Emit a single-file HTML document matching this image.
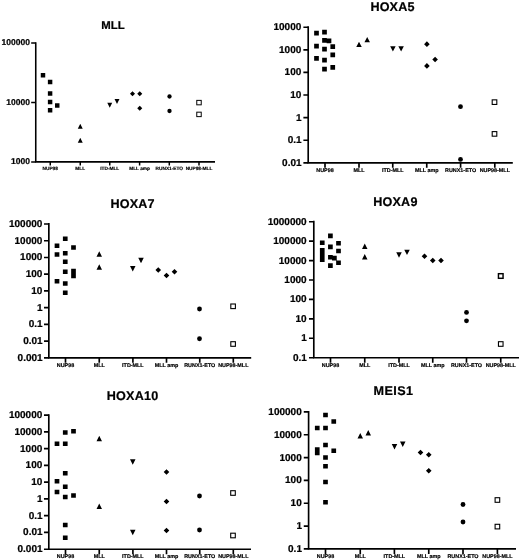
<!DOCTYPE html>
<html><head><meta charset="utf-8"><title>Expression plots</title>
<style>
html,body{margin:0;padding:0;background:#fff;}
body{width:520px;height:560px;overflow:hidden;}
svg{display:block;}
text{font-family:"Liberation Sans", sans-serif;font-weight:bold;text-rendering:geometricPrecision;fill:#000;stroke:#000;stroke-width:0.22px;stroke-linejoin:round;}
text.l{stroke-width:0.18px;}
</style></head><body>
<svg width="520" height="560" viewBox="0 0 520 560">
<defs><filter id="b" x="0" y="0" width="520" height="560" filterUnits="userSpaceOnUse"><feGaussianBlur stdDeviation="0.45"/></filter></defs>
<g filter="url(#b)">
<rect x="-5" y="-5" width="530" height="570" fill="#fff"/>
<g>
<path d="M35.75 42.26V161.9H215" fill="none" stroke="#000" stroke-width="1.57" stroke-linejoin="miter"/>
<path d="M31.17 43.1H35.75M31.17 102.5H35.75M31.17 161.9H35.75M50.25 161.9V165.54M80.25 161.9V165.54M109.75 161.9V165.54M139.6 161.9V165.54M169.3 161.9V165.54M199 161.9V165.54" fill="none" stroke="#000" stroke-width="1.48"/>
<text transform="translate(29.9 45.24) scale(1 1)" font-size="8.5" text-anchor="end">100000</text>
<text transform="translate(29.9 104.64) scale(1 1)" font-size="8.5" text-anchor="end">10000</text>
<text transform="translate(29.9 164.04) scale(1 1)" font-size="8.5" text-anchor="end">1000</text>
<text x="50.25" y="170.2" font-size="4.75" text-anchor="middle" class="l">NUP98</text>
<text x="80.25" y="170.2" font-size="4.75" text-anchor="middle" class="l">MLL</text>
<text x="109.75" y="170.2" font-size="4.75" text-anchor="middle" class="l">ITD-MLL</text>
<text x="139.6" y="170.2" font-size="4.75" text-anchor="middle" class="l">MLL amp</text>
<text x="169.3" y="170.2" font-size="4.75" text-anchor="middle" class="l">RUNX1-ETO</text>
<text x="199" y="170.2" font-size="4.75" text-anchor="middle" class="l">NUP98-MLL</text>
<text x="112.9" y="28.78" font-size="11.4" letter-spacing="0" text-anchor="middle">MLL</text>
<path d="M40.77 73.02h4.46v4.46h-4.46zM47.87 79.67h4.46v4.46h-4.46zM47.87 91.17h4.46v4.46h-4.46zM47.87 99.67h4.46v4.46h-4.46zM55.02 103.17h4.46v4.46h-4.46zM47.87 108.07h4.46v4.46h-4.46zM77.78 128.63h4.95L80.25 123.86zM77.78 142.63h4.95L80.25 137.87zM107.28 102.86h4.95L109.75 107.64zM114.53 99.11h4.95L117 103.89zM129.98 93.75L132.5 91.23L135.02 93.75L132.5 96.27zM137.23 93.75L139.75 91.23L142.27 93.75L139.75 96.27zM137.23 108.25L139.75 105.73L142.27 108.25L139.75 110.77z" fill="#000"/>
<circle cx="169.5" cy="96.5" r="2.16" fill="#000"/>
<circle cx="169.5" cy="111" r="2.16" fill="#000"/>
<rect x="196.77" y="100.37" width="4.46" height="4.46" fill="#fff" stroke="#000" stroke-width="0.99"/>
<rect x="196.77" y="112.17" width="4.46" height="4.46" fill="#fff" stroke="#000" stroke-width="0.99"/>
</g>
<g>
<path d="M308.2 26.27V162.8H512.8" fill="none" stroke="#000" stroke-width="1.65" stroke-linejoin="miter"/>
<path d="M303.38 27.2H308.2M303.38 49.8H308.2M303.38 72.4H308.2M303.38 95H308.2M303.38 117.6H308.2M303.38 140.2H308.2M303.38 162.8H308.2M325 162.8V167.82M359 162.8V167.82M392.75 162.8V167.82M426.75 162.8V167.82M460.6 162.8V167.82M494.8 162.8V167.82" fill="none" stroke="#000" stroke-width="1.65"/>
<text transform="translate(301.3 30.18) scale(1 1)" font-size="10" text-anchor="end">10000</text>
<text transform="translate(301.3 52.78) scale(1 1)" font-size="10" text-anchor="end">1000</text>
<text transform="translate(301.3 75.38) scale(1 1)" font-size="10" text-anchor="end">100</text>
<text transform="translate(301.3 97.98) scale(1 1)" font-size="10" text-anchor="end">10</text>
<text transform="translate(301.55 120.58) scale(1 1)" font-size="10" text-anchor="end">1</text>
<text transform="translate(301.55 143.18) scale(1 1)" font-size="10" text-anchor="end">0.1</text>
<text transform="translate(301.55 165.78) scale(1 1)" font-size="10" text-anchor="end">0.01</text>
<text x="325" y="171.93" font-size="5.4" text-anchor="middle" class="l">NUP98</text>
<text x="359" y="171.93" font-size="5.4" text-anchor="middle" class="l">MLL</text>
<text x="392.75" y="171.93" font-size="5.4" text-anchor="middle" class="l">ITD-MLL</text>
<text x="426.75" y="171.93" font-size="5.4" text-anchor="middle" class="l">MLL amp</text>
<text x="460.6" y="171.93" font-size="5.4" text-anchor="middle" class="l">RUNX1-ETO</text>
<text x="494.8" y="171.93" font-size="5.4" text-anchor="middle" class="l">NUP98-MLL</text>
<text x="392.5" y="10.76" font-size="12.6" letter-spacing="0.15" text-anchor="middle">HOXA5</text>
<path d="M314.15 30.8h4.7v4.7h-4.7zM322.15 29.8h4.7v4.7h-4.7zM322.15 38.05h4.7v4.7h-4.7zM326.65 38.55h4.7v4.7h-4.7zM314.15 43.8h4.7v4.7h-4.7zM330.4 44.3h4.7v4.7h-4.7zM322.15 46.8h4.7v4.7h-4.7zM330.4 52.55h4.7v4.7h-4.7zM314.15 56.05h4.7v4.7h-4.7zM322.15 57.8h4.7v4.7h-4.7zM330.4 65.05h4.7v4.7h-4.7zM322.15 66.8h4.7v4.7h-4.7zM356.25 47.05h5.5L359 41.75zM364.45 42.25h5.5L367.2 36.95zM390.15 46.25h5.5L392.9 51.55zM398.35 46.25h5.5L401.1 51.55zM424.1 44.15L426.9 41.35L429.7 44.15L426.9 46.95zM432.3 59.5L435.1 56.7L437.9 59.5L435.1 62.3zM424.1 65.9L426.9 63.1L429.7 65.9L426.9 68.7z" fill="#000"/>
<circle cx="460.5" cy="106.65" r="2.4" fill="#000"/>
<circle cx="460.5" cy="159.4" r="2.4" fill="#000"/>
<rect x="492.2" y="99.85" width="4.6" height="4.6" fill="#fff" stroke="#000" stroke-width="1.1"/>
<rect x="492.2" y="131.6" width="4.6" height="4.6" fill="#fff" stroke="#000" stroke-width="1.1"/>
</g>
<g>
<path d="M48.85 223.08V357.8H251.2" fill="none" stroke="#000" stroke-width="1.65" stroke-linejoin="miter"/>
<path d="M44.02 224H48.85M44.02 240.72H48.85M44.02 257.45H48.85M44.02 274.18H48.85M44.02 290.9H48.85M44.02 307.62H48.85M44.02 324.35H48.85M44.02 341.08H48.85M44.02 357.8H48.85M65.5 357.8V362.82M99.25 357.8V362.82M132.9 357.8V362.82M166.5 357.8V362.82M199.75 357.8V362.82M233.3 357.8V362.82" fill="none" stroke="#000" stroke-width="1.65"/>
<text transform="translate(42.35 226.98) scale(1 1)" font-size="10" text-anchor="end">100000</text>
<text transform="translate(42.35 243.71) scale(1 1)" font-size="10" text-anchor="end">10000</text>
<text transform="translate(42.35 260.43) scale(1 1)" font-size="10" text-anchor="end">1000</text>
<text transform="translate(42.35 277.15) scale(1 1)" font-size="10" text-anchor="end">100</text>
<text transform="translate(42.35 293.88) scale(1 1)" font-size="10" text-anchor="end">10</text>
<text transform="translate(42.6 310.6) scale(1 1)" font-size="10" text-anchor="end">1</text>
<text transform="translate(42.6 327.33) scale(1 1)" font-size="10" text-anchor="end">0.1</text>
<text transform="translate(42.6 344.06) scale(1 1)" font-size="10" text-anchor="end">0.01</text>
<text transform="translate(42.6 360.78) scale(1 1)" font-size="10" text-anchor="end">0.001</text>
<text x="65.5" y="367.03" font-size="5.4" text-anchor="middle" class="l">NUP98</text>
<text x="99.25" y="367.03" font-size="5.4" text-anchor="middle" class="l">MLL</text>
<text x="132.9" y="367.03" font-size="5.4" text-anchor="middle" class="l">ITD-MLL</text>
<text x="166.5" y="367.03" font-size="5.4" text-anchor="middle" class="l">MLL amp</text>
<text x="199.75" y="367.03" font-size="5.4" text-anchor="middle" class="l">RUNX1-ETO</text>
<text x="233.3" y="367.03" font-size="5.4" text-anchor="middle" class="l">NUP98-MLL</text>
<text x="132.6" y="207.91" font-size="12.6" letter-spacing="0.15" text-anchor="middle">HOXA7</text>
<path d="M54.65 243.4h4.7v4.7h-4.7zM62.9 236.4h4.7v4.7h-4.7zM71.15 245.15h4.7v4.7h-4.7zM54.65 252.15h4.7v4.7h-4.7zM62.9 250.9h4.7v4.7h-4.7zM62.9 259.4h4.7v4.7h-4.7zM62.9 269.4h4.7v4.7h-4.7zM71.15 268.85h4.7v4.7h-4.7zM71.15 273.45h4.7v4.7h-4.7zM54.65 278.9h4.7v4.7h-4.7zM62.9 281.15h4.7v4.7h-4.7zM62.9 290.4h4.7v4.7h-4.7zM96.5 256.65h5.5L99.25 251.35zM96.5 269.65h5.5L99.25 264.35zM130 266.1h5.5L132.75 271.4zM138.25 257.85h5.5L141 263.15zM155.45 270L158.25 267.2L161.05 270L158.25 272.8zM163.7 275.5L166.5 272.7L169.3 275.5L166.5 278.3zM171.7 271.75L174.5 268.95L177.3 271.75L174.5 274.55z" fill="#000"/>
<circle cx="199.5" cy="309" r="2.4" fill="#000"/>
<circle cx="199.5" cy="338.75" r="2.4" fill="#000"/>
<rect x="230.8" y="304" width="4.6" height="4.6" fill="#fff" stroke="#000" stroke-width="1.1"/>
<rect x="230.8" y="341.7" width="4.6" height="4.6" fill="#fff" stroke="#000" stroke-width="1.1"/>
</g>
<g>
<path d="M313.8 220.78V357.7H519" fill="none" stroke="#000" stroke-width="1.65" stroke-linejoin="miter"/>
<path d="M308.98 221.7H313.8M308.98 241.13H313.8M308.98 260.56H313.8M308.98 279.99H313.8M308.98 299.41H313.8M308.98 318.84H313.8M308.98 338.27H313.8M308.98 357.7H313.8M330.5 357.7V362.72M364.75 357.7V362.72M399 357.7V362.72M432.75 357.7V362.72M466.5 357.7V362.72M500.75 357.7V362.72" fill="none" stroke="#000" stroke-width="1.65"/>
<text transform="translate(306.6 224.68) scale(1 1)" font-size="10" text-anchor="end">1000000</text>
<text transform="translate(306.6 244.11) scale(1 1)" font-size="10" text-anchor="end">100000</text>
<text transform="translate(306.6 263.54) scale(1 1)" font-size="10" text-anchor="end">10000</text>
<text transform="translate(306.6 282.97) scale(1 1)" font-size="10" text-anchor="end">1000</text>
<text transform="translate(306.6 302.39) scale(1 1)" font-size="10" text-anchor="end">100</text>
<text transform="translate(306.6 321.82) scale(1 1)" font-size="10" text-anchor="end">10</text>
<text transform="translate(306.85 341.25) scale(1 1)" font-size="10" text-anchor="end">1</text>
<text transform="translate(306.85 360.68) scale(1 1)" font-size="10" text-anchor="end">0.1</text>
<text x="330.5" y="366.88" font-size="5.4" text-anchor="middle" class="l">NUP98</text>
<text x="364.75" y="366.88" font-size="5.4" text-anchor="middle" class="l">MLL</text>
<text x="399" y="366.88" font-size="5.4" text-anchor="middle" class="l">ITD-MLL</text>
<text x="432.75" y="366.88" font-size="5.4" text-anchor="middle" class="l">MLL amp</text>
<text x="466.5" y="366.88" font-size="5.4" text-anchor="middle" class="l">RUNX1-ETO</text>
<text x="500.75" y="366.88" font-size="5.4" text-anchor="middle" class="l">NUP98-MLL</text>
<text x="395.4" y="205.96" font-size="12.6" letter-spacing="0.2" text-anchor="middle">HOXA9</text>
<path d="M319.9 240.4h4.7v4.7h-4.7zM319.9 247.95h4.7v4.7h-4.7zM319.9 252.65h4.7v4.7h-4.7zM319.9 257.25h4.7v4.7h-4.7zM328.05 233.55h4.7v4.7h-4.7zM328.05 244.55h4.7v4.7h-4.7zM328.05 254.9h4.7v4.7h-4.7zM332.05 255.75h4.7v4.7h-4.7zM328.05 263.25h4.7v4.7h-4.7zM336.15 240.9h4.7v4.7h-4.7zM336.15 248.65h4.7v4.7h-4.7zM336.15 260.4h4.7v4.7h-4.7zM362 248.9h5.5L364.75 243.6zM362 259.4h5.5L364.75 254.1zM396.25 252.35h5.5L399 257.65zM404.25 249.75h5.5L407 255.05zM421.7 256.25L424.5 253.45L427.3 256.25L424.5 259.05zM429.95 260.5L432.75 257.7L435.55 260.5L432.75 263.3zM438.2 260.5L441 257.7L443.8 260.5L441 263.3z" fill="#000"/>
<circle cx="466.5" cy="312.4" r="2.4" fill="#000"/>
<circle cx="466.5" cy="320.8" r="2.4" fill="#000"/>
<rect x="498.45" y="273.7" width="4.6" height="4.6" fill="#fff" stroke="#000" stroke-width="1.45"/>
<rect x="498.45" y="341.7" width="4.6" height="4.6" fill="#fff" stroke="#000" stroke-width="1.1"/>
</g>
<g>
<path d="M48.8 414.22V549.2H251" fill="none" stroke="#000" stroke-width="1.65" stroke-linejoin="miter"/>
<path d="M43.97 415.15H48.8M43.97 431.91H48.8M43.97 448.66H48.8M43.97 465.42H48.8M43.97 482.18H48.8M43.97 498.93H48.8M43.97 515.69H48.8M43.97 532.44H48.8M43.97 549.2H48.8M65.5 549.2V554.23M99.25 549.2V554.23M132.9 549.2V554.23M166.5 549.2V554.23M199.75 549.2V554.23M233.3 549.2V554.23" fill="none" stroke="#000" stroke-width="1.65"/>
<text transform="translate(42.3 418.13) scale(1 1)" font-size="10" text-anchor="end">100000</text>
<text transform="translate(42.3 434.89) scale(1 1)" font-size="10" text-anchor="end">10000</text>
<text transform="translate(42.3 451.64) scale(1 1)" font-size="10" text-anchor="end">1000</text>
<text transform="translate(42.3 468.4) scale(1 1)" font-size="10" text-anchor="end">100</text>
<text transform="translate(42.3 485.15) scale(1 1)" font-size="10" text-anchor="end">10</text>
<text transform="translate(42.55 501.91) scale(1 1)" font-size="10" text-anchor="end">1</text>
<text transform="translate(42.55 518.67) scale(1 1)" font-size="10" text-anchor="end">0.1</text>
<text transform="translate(42.55 535.42) scale(1 1)" font-size="10" text-anchor="end">0.01</text>
<text transform="translate(42.55 552.18) scale(1 1)" font-size="10" text-anchor="end">0.001</text>
<text x="65.5" y="558.33" font-size="5.4" text-anchor="middle" class="l">NUP98</text>
<text x="99.25" y="558.33" font-size="5.4" text-anchor="middle" class="l">MLL</text>
<text x="132.9" y="558.33" font-size="5.4" text-anchor="middle" class="l">ITD-MLL</text>
<text x="166.5" y="558.33" font-size="5.4" text-anchor="middle" class="l">MLL amp</text>
<text x="199.75" y="558.33" font-size="5.4" text-anchor="middle" class="l">RUNX1-ETO</text>
<text x="233.3" y="558.33" font-size="5.4" text-anchor="middle" class="l">NUP98-MLL</text>
<text x="132.6" y="399.56" font-size="12.6" letter-spacing="0.2" text-anchor="middle">HOXA10</text>
<path d="M62.9 430.15h4.7v4.7h-4.7zM71.15 428.9h4.7v4.7h-4.7zM54.65 441.4h4.7v4.7h-4.7zM62.9 441.4h4.7v4.7h-4.7zM62.9 470.9h4.7v4.7h-4.7zM54.65 478.9h4.7v4.7h-4.7zM62.9 484.4h4.7v4.7h-4.7zM54.65 489.65h4.7v4.7h-4.7zM62.9 494.65h4.7v4.7h-4.7zM71.15 493.15h4.7v4.7h-4.7zM62.9 522.65h4.7v4.7h-4.7zM62.9 535.4h4.7v4.7h-4.7zM96.5 441.15h5.5L99.25 435.85zM96.5 508.9h5.5L99.25 503.6zM130 459.35h5.5L132.75 464.65zM130 529.85h5.5L132.75 535.15zM163.7 472L166.5 469.2L169.3 472L166.5 474.8zM163.7 501.5L166.5 498.7L169.3 501.5L166.5 504.3zM163.7 530.5L166.5 527.7L169.3 530.5L166.5 533.3z" fill="#000"/>
<circle cx="199.5" cy="496" r="2.4" fill="#000"/>
<circle cx="199.5" cy="530" r="2.4" fill="#000"/>
<rect x="230.7" y="490.7" width="4.6" height="4.6" fill="#fff" stroke="#000" stroke-width="1.1"/>
<rect x="230.7" y="533.2" width="4.6" height="4.6" fill="#fff" stroke="#000" stroke-width="1.1"/>
</g>
<g>
<path d="M308.6 410.97V548.9H516" fill="none" stroke="#000" stroke-width="1.65" stroke-linejoin="miter"/>
<path d="M303.78 411.9H308.6M303.78 434.73H308.6M303.78 457.57H308.6M303.78 480.4H308.6M303.78 503.23H308.6M303.78 526.07H308.6M303.78 548.9H308.6M325.5 548.9V553.93M360.25 548.9V553.93M394.4 548.9V553.93M428.75 548.9V553.93M463 548.9V553.93M497.4 548.9V553.93" fill="none" stroke="#000" stroke-width="1.65"/>
<text transform="translate(301.7 414.88) scale(1 1)" font-size="10" text-anchor="end">100000</text>
<text transform="translate(301.7 437.71) scale(1 1)" font-size="10" text-anchor="end">10000</text>
<text transform="translate(301.7 460.55) scale(1 1)" font-size="10" text-anchor="end">1000</text>
<text transform="translate(301.7 483.38) scale(1 1)" font-size="10" text-anchor="end">100</text>
<text transform="translate(301.7 506.21) scale(1 1)" font-size="10" text-anchor="end">10</text>
<text transform="translate(301.95 529.05) scale(1 1)" font-size="10" text-anchor="end">1</text>
<text transform="translate(301.95 551.88) scale(1 1)" font-size="10" text-anchor="end">0.1</text>
<text x="325.5" y="558.03" font-size="5.4" text-anchor="middle" class="l">NUP98</text>
<text x="360.25" y="558.03" font-size="5.4" text-anchor="middle" class="l">MLL</text>
<text x="394.4" y="558.03" font-size="5.4" text-anchor="middle" class="l">ITD-MLL</text>
<text x="428.75" y="558.03" font-size="5.4" text-anchor="middle" class="l">MLL amp</text>
<text x="463" y="558.03" font-size="5.4" text-anchor="middle" class="l">RUNX1-ETO</text>
<text x="497.4" y="558.03" font-size="5.4" text-anchor="middle" class="l">NUP98-MLL</text>
<text x="393.5" y="395.26" font-size="12.6" letter-spacing="0.45" text-anchor="middle">MEIS1</text>
<path d="M323.15 412.65h4.7v4.7h-4.7zM331.4 419.15h4.7v4.7h-4.7zM314.9 425.65h4.7v4.7h-4.7zM323.15 425.65h4.7v4.7h-4.7zM323.15 442.65h4.7v4.7h-4.7zM314.9 447.15h4.7v4.7h-4.7zM314.9 450.65h4.7v4.7h-4.7zM331.4 448.4h4.7v4.7h-4.7zM323.15 455.15h4.7v4.7h-4.7zM323.15 463.9h4.7v4.7h-4.7zM323.15 479.65h4.7v4.7h-4.7zM323.15 499.9h4.7v4.7h-4.7zM357.5 438.4h5.5L360.25 433.1zM365.5 435.4h5.5L368.25 430.1zM391.75 444.1h5.5L394.5 449.4zM400 441.6h5.5L402.75 446.9zM417.7 452.5L420.5 449.7L423.3 452.5L420.5 455.3zM425.95 454.75L428.75 451.95L431.55 454.75L428.75 457.55zM425.95 470.75L428.75 467.95L431.55 470.75L428.75 473.55z" fill="#000"/>
<circle cx="463" cy="504.5" r="2.4" fill="#000"/>
<circle cx="463" cy="522" r="2.4" fill="#000"/>
<rect x="495.1" y="497.7" width="4.6" height="4.6" fill="#fff" stroke="#000" stroke-width="1.1"/>
<rect x="495.1" y="524.3" width="4.6" height="4.6" fill="#fff" stroke="#000" stroke-width="1.1"/>
</g>
</g>
</svg>
</body></html>
